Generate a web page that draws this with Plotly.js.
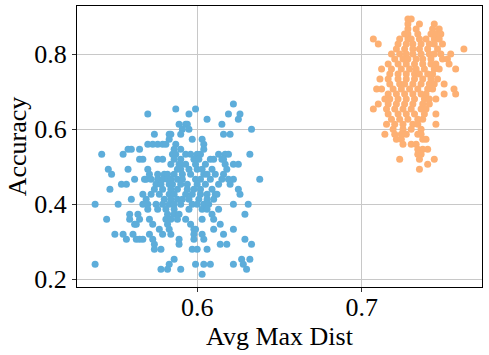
<!DOCTYPE html>
<html>
<head>
<meta charset="utf-8">
<script src="https://cdn.plot.ly/plotly-3.0.1.min.js"></script>
<style>
  body { margin: 0; background: #fff; }
  #plot { width: 489px; height: 355px; }
</style>
</head>
<body>
<div id="plot"></div>
<script>
// blue cluster, listed row by row (accuracy levels are steps of 1/75)
let blueDist = [
  0.622,
  0.587, 0.599,
  0.570, 0.595, 0.619, 0.626,
  0.606, 0.625,
  0.589, 0.593, 0.594, 0.615,
  0.591, 0.595, 0.633,
  0.574, 0.583, 0.584, 0.590, 0.616, 0.620,
  0.583, 0.597, 0.603,
  0.570, 0.573, 0.576, 0.579, 0.581, 0.587, 0.604,
  0.558, 0.560, 0.565, 0.586, 0.590, 0.604,
  0.542, 0.555, 0.585, 0.587, 0.593, 0.596, 0.600, 0.602, 0.613, 0.617, 0.619, 0.632,
  0.565, 0.567, 0.576, 0.579, 0.586, 0.590, 0.598, 0.601, 0.608, 0.610, 0.615, 0.616,
  0.584, 0.589, 0.590, 0.593, 0.599, 0.605, 0.617, 0.622, 0.625,
  0.546, 0.558, 0.570, 0.588, 0.590, 0.595, 0.600, 0.603, 0.609, 0.618,
  0.548, 0.571, 0.576, 0.580, 0.582, 0.586, 0.591, 0.596, 0.604, 0.606, 0.611, 0.616,
  0.562, 0.568, 0.569, 0.572, 0.576, 0.579, 0.582, 0.584, 0.588, 0.591, 0.599, 0.602, 0.608, 0.615, 0.619, 0.622, 0.638,
  0.554, 0.557, 0.575, 0.578, 0.583, 0.585, 0.590, 0.594, 0.600, 0.605, 0.613, 0.620,
  0.547, 0.574, 0.579, 0.584, 0.588, 0.594, 0.598, 0.602, 0.609, 0.625,
  0.567, 0.572, 0.577, 0.583, 0.586, 0.593, 0.597, 0.602, 0.606, 0.611, 0.612, 0.626,
  0.560, 0.569, 0.580, 0.584, 0.588, 0.591, 0.595, 0.601, 0.606, 0.610,
  0.538, 0.552, 0.567, 0.570, 0.575, 0.579, 0.583, 0.586, 0.590, 0.597, 0.600, 0.604, 0.607, 0.622, 0.631,
  0.570, 0.576, 0.581, 0.586, 0.595, 0.603, 0.606, 0.613,
  0.559, 0.564, 0.582, 0.586, 0.589, 0.609, 0.629,
  0.545, 0.559, 0.565, 0.571, 0.581, 0.584, 0.588, 0.593, 0.603, 0.610,
  0.562, 0.563, 0.573, 0.582, 0.596, 0.614,
  0.577, 0.583, 0.598, 0.599, 0.610, 0.622,
  0.550, 0.555, 0.561, 0.571, 0.579, 0.584, 0.598, 0.603, 0.616,
  0.557, 0.563, 0.565, 0.567, 0.573, 0.589, 0.598, 0.604, 0.629,
  0.574, 0.589, 0.614, 0.618, 0.633,
  0.574, 0.578, 0.597, 0.600, 0.606,
  0.586, 0.627, 0.632,
  0.538, 0.583, 0.599, 0.604, 0.608, 0.622, 0.628,
  0.578, 0.582, 0.590, 0.630,
  0.603
];
let blueCount = [1, 2, 4, 2, 4, 3, 6, 3, 7, 6, 12, 12, 9, 10, 12, 17, 12, 10, 12, 10, 15, 8, 7, 10, 6, 6, 9, 9, 5, 5, 3, 7, 4, 1];
let blueLevel = [50, 49, 48, 47, 46, 45, 44, 43, 42, 41, 40, 39, 38, 37, 36, 35, 34, 33, 32, 31, 30, 29, 28, 27, 26, 25, 24, 23, 22, 21, 19, 18, 17, 16];

// orange cluster
let orangeDist = [
  0.728, 0.730,
  0.728, 0.735, 0.744,
  0.728, 0.733, 0.743, 0.747,
  0.726, 0.728, 0.734, 0.742, 0.745, 0.748,
  0.707, 0.723, 0.728, 0.730, 0.735, 0.739, 0.744, 0.747,
  0.710, 0.722, 0.727, 0.731, 0.736, 0.741, 0.744, 0.749,
  0.721, 0.726, 0.731, 0.735, 0.740, 0.746, 0.762,
  0.718, 0.723, 0.727, 0.731, 0.736, 0.741, 0.744, 0.748, 0.754,
  0.720, 0.725, 0.728, 0.733, 0.737, 0.742, 0.749, 0.752,
  0.716, 0.722, 0.727, 0.732, 0.737, 0.742, 0.745, 0.753,
  0.712, 0.718, 0.724, 0.729, 0.733, 0.738, 0.744, 0.747, 0.757,
  0.717, 0.722, 0.727, 0.732, 0.735, 0.740, 0.743,
  0.711, 0.716, 0.722, 0.727, 0.732, 0.737, 0.742, 0.746,
  0.717, 0.723, 0.726, 0.731, 0.736, 0.741, 0.744, 0.750,
  0.709, 0.712, 0.719, 0.724, 0.729, 0.734, 0.740, 0.743, 0.756,
  0.716, 0.721, 0.726, 0.731, 0.736, 0.739, 0.750, 0.757,
  0.714, 0.717, 0.722, 0.727, 0.732, 0.738, 0.741, 0.745,
  0.710, 0.716, 0.721, 0.726, 0.731, 0.737, 0.741,
  0.707, 0.715, 0.720, 0.725, 0.730, 0.736, 0.739,
  0.716, 0.722, 0.727, 0.732, 0.738, 0.745,
  0.718, 0.723, 0.728, 0.734, 0.737,
  0.715, 0.720, 0.725, 0.731, 0.734, 0.745,
  0.719, 0.725, 0.730, 0.736,
  0.714, 0.720, 0.724, 0.727, 0.734, 0.736,
  0.721, 0.724, 0.737, 0.739,
  0.725, 0.730, 0.733,
  0.734, 0.737, 0.740,
  0.734, 0.736,
  0.723, 0.735, 0.744,
  0.740,
  0.735
];
let orangeCount = [2, 3, 4, 6, 8, 8, 7, 9, 8, 8, 9, 7, 8, 8, 9, 8, 8, 7, 7, 6, 5, 6, 4, 6, 4, 3, 3, 2, 3, 1, 1];
let orangeLevel = [67, 66, 65, 64, 63, 62, 61, 60, 59, 58, 57, 56, 55, 54, 53, 52, 51, 50, 49, 48, 47, 46, 45, 44, 43, 42, 41, 40, 39, 38, 37];

// accuracy = level / 75, repeated for each point on that row
function accRows(levels, counts) {
  let out = [];
  levels.forEach((k, i) => {
    for (let j = 0; j < counts[i]; j++) out.push(k / 75);
  });
  return out;
}

let trace1 = {
  x: blueDist,
  y: accRows(blueLevel, blueCount),
  type: "scatter",
  mode: "markers",
  marker: { color: "#5dadda", size: 7 },
};

let trace2 = {
  x: orangeDist,
  y: accRows(orangeLevel, orangeCount),
  type: "scatter",
  mode: "markers",
  marker: { color: "#fdb073", size: 7 },
};

let serif = "Liberation Serif";

let layout = {
  width: 489,
  height: 355,
  margin: { l: 77, r: 7, t: 6, b: 68 },
  showlegend: false,
  paper_bgcolor: "#fff",
  plot_bgcolor: "#fff",
  font: { family: serif, size: 26, color: "#000" },
  xaxis: {
    range: [0.527, 0.773],
    tickvals: [0.6, 0.7],
    ticktext: ["0.6", "0.7"],
    tickfont: { family: serif, size: 26, color: "#000" },
    ticklabelstandoff: -7,
    showgrid: true,
    gridcolor: "#c8c8c8",
    zeroline: false,
    showline: true,
    mirror: true,
    linecolor: "#000",
    linewidth: 1,
    ticks: "outside",
    ticklen: 4,
    tickcolor: "#333",
    title: { text: "Avg Max Dist", font: { family: serif, size: 26, color: "#000" }, standoff: 4 },
  },
  yaxis: {
    range: [0.1795, 0.928],
    tickvals: [0.2, 0.4, 0.6, 0.8],
    ticktext: ["0.2", "0.4", "0.6", "0.8"],
    tickfont: { family: serif, size: 26, color: "#000" },
    showgrid: true,
    gridcolor: "#c8c8c8",
    zeroline: false,
    showline: true,
    mirror: true,
    linecolor: "#000",
    linewidth: 1,
    ticks: "outside",
    ticklen: 4,
    tickcolor: "#333",
    title: { text: "Accuracy", font: { family: serif, size: 26, color: "#000" }, standoff: 0 },
  },
};

Plotly.newPlot("plot", [trace1, trace2], layout, { staticPlot: true });
</script>
</body>
</html>
